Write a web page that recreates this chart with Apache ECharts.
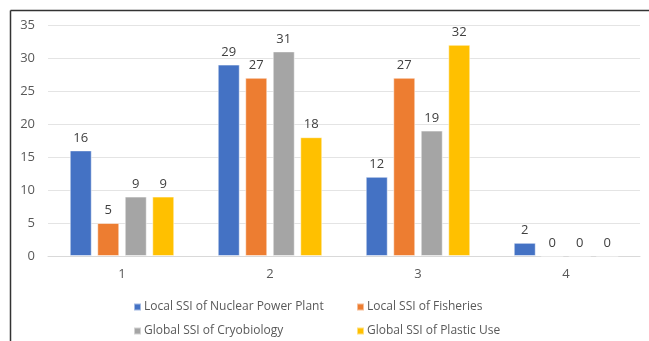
<!DOCTYPE html>
<html><head><meta charset="utf-8">
<script src="https://cdn.jsdelivr.net/npm/echarts@6/dist/echarts.min.js"></script>
<style>html,body{margin:0;padding:0;background:#fff}#c{width:649px;height:341px}</style>
</head><body><div id="c"></div>
<script>
const categories = ['1', '2', '3', '4'];
const seriesNames = ['Local SSI of Nuclear Power Plant', 'Local SSI of Fisheries', 'Global SSI of Cryobiology', 'Global SSI of Plastic Use'];
const nuclear = [16, 29, 12, 2];
const fisheries = [5, 27, 27, 0];
const cryobiology = [9, 31, 19, 0];
const plastic = [9, 18, 32, 0];
const colors = ['#4472C4', '#ED7D31', '#A5A5A5', '#FFC000'];
const values = [nuclear, fisheries, cryobiology, plastic];

const font = "'Open Sans', sans-serif";
const chart = echarts.init(document.getElementById('c'), null, {renderer: 'canvas'});
const legendPos = [[128, 296], [351, 296], [128, 320], [351, 320]];
chart.setOption({
  animation: false,
  color: colors,
  grid: {left: 48, right: 9, top: 25, bottom: 85},
  xAxis: {
    type: 'category', data: categories,
    axisLine: {lineStyle: {color: '#d9d9d9'}},
    axisTick: {show: false},
    axisLabel: {color: '#595959', fontSize: 13, fontFamily: font, margin: 12}
  },
  yAxis: {
    type: 'value', min: 0, max: 35, interval: 5,
    axisLine: {show: false}, axisTick: {show: false},
    splitLine: {lineStyle: {color: '#e4e4e4'}},
    axisLabel: {color: '#595959', fontSize: 13, fontFamily: font, margin: 13}
  },
  legend: seriesNames.map((n, i) => ({
    data: [n], left: legendPos[i][0], top: legendPos[i][1],
    itemWidth: 7, itemHeight: 7, icon: 'rect', itemGap: 4,
    textStyle: {color: '#595959', fontSize: 12, fontFamily: font, padding: [0, 0, 0, -2]}
  })),
  series: seriesNames.map((n, i) => ({
    name: n, type: 'bar', data: values[i],
    barWidth: 22, barGap: '25%',
    itemStyle: {color: colors[i], borderColor: 'rgba(255,255,255,0.5)', borderWidth: 1},
    label: {show: true, position: 'top', distance: 6, color: '#404040', fontSize: 13, fontFamily: font}
  })),
  graphic: [
    {type: 'line', shape: {x1: 10.5, y1: 10.5, x2: 649, y2: 10.5}, style: {stroke: '#333', lineWidth: 1.5}},
    {type: 'line', shape: {x1: 10.5, y1: 10.5, x2: 10.5, y2: 341}, style: {stroke: '#333', lineWidth: 1.5}}
  ]
});
</script></body></html>
